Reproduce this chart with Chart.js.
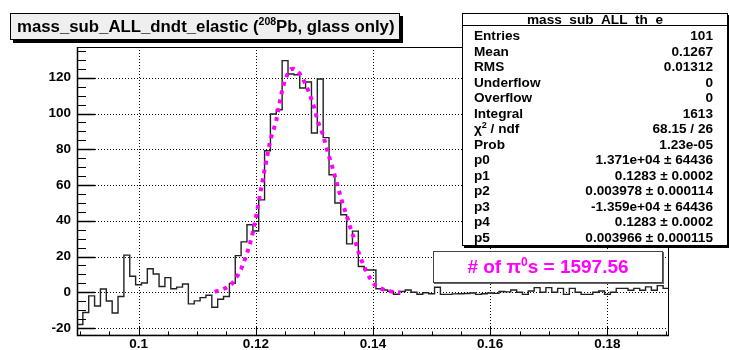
<!DOCTYPE html>
<html>
<head>
<meta charset="utf-8">
<script src="https://cdn.jsdelivr.net/npm/chart.js@4.4.1/dist/chart.umd.min.js"></script>
<style>
  body { margin: 0; background: #fff; font-family: "Liberation Sans", Arial, sans-serif; }
  #wrap { position: relative; width: 729px; height: 350px; overflow: hidden; }
  #plot { position: absolute; left: 0; top: 0; }
  .box { position: absolute; box-sizing: border-box; font-weight: bold; color: #000; }
  #title { left: 10px; top: 13px; width: 390px; height: 27px; background: #efefef; border: 1px solid #000;
           box-shadow: 3px 3px 0 #000; font-size: 16.8px; line-height: 25px; padding-left: 6px; white-space: nowrap; }
  #title sup { font-size: 10.5px; vertical-align: 7px; line-height: 0; }
  #stats { left: 462px; top: 13px; width: 266px; height: 233px; background: #fff; border: 1px solid #000;
           box-shadow: 2px 2px 0 #000; font-size: 13.6px; }
  #stats .head { position: absolute; left: 0; right: 0; top: 0; height: 11px; border-bottom: 1px solid #000;
                 text-align: center; line-height: 12px; }
  #stats .row { position: absolute; left: 11px; right: 14px; height: 16px; line-height: 16px; }
  #stats .row span { position: absolute; top: 0; white-space: nowrap; }
  #stats .row .v { right: 0; }
  #stats sup { font-size: 9px; vertical-align: 5px; line-height: 0; }
  #npi { left: 433px; top: 251px; width: 230px; height: 32px; background: #fff; border: 1px solid #444;
         box-shadow: 1px 1px 0 #666; color: #ff00ff; font-size: 19px; line-height: 30px; text-align: center; }
  #npi sup { font-size: 12px; vertical-align: 7px; line-height: 0; }
</style>
</head>
<body>
<div id="wrap">
  <canvas id="plot" width="729" height="350"></canvas>
  <div id="title" class="box">mass_sub_ALL_dndt_elastic (<sup>208</sup>Pb, glass only)</div>
  <div id="stats" class="box"><div class="head">mass_sub_ALL_th_e</div></div>
  <div id="npi" class="box"># of &pi;<sup>0</sup>s = 1597.56</div>
</div>
<script>
// 101 bins of width 0.001, the first one centred on 0.090
var binLow = 0.0895
var binWidth = 0.001
var counts = [
  -18, -11.3, -2, -7.7, 1.8, -4.9, -11.6, -2.4, 20.8, 9,
  4.2, 5.2, 13.2, 10.2, 3.2, 8.2, 2, 2.9, 4.6, -6.5,
  -4.8, -3, -1.7, -8.4, -3.9, -2.4, 5, 20.5, 28.2, 37.8,
  34.3, 51.7, 79.2, 99.7, 102.1, 129.6, 122.1, 121.7, 114.3, 117.6,
  89.1, 119.3, 86.5, 65.7, 49.9, 43.4, 27.1, 34.2, 14.4, 12.5,
  12.5, 2.0, 1.3, 0.5, -1.1, 0.4, 1.3, 0, -1.1, -0.3,
  -0.8, 2.8, -1.2, -1.2, -0.9, -0.8, -0.7, -0.4, -1.2, -0.8,
  -0.4, -0.6, 0.4, 0.2, 1.3, 0, -1.2, 0.7, 2.6, 0,
  2.6, 0, 2.2, -1.2, 2.2, 0, -1.2, -1.2, 0, 0.7,
  -1.2, 0, 2.2, 2.2, 1.1, 2.2, 1.1, 3.0, 1.1, 3.7,
  2.2
]

// double gaussian fit, sampled over its range
var fitX = [0.1130, 0.1140, 0.1150, 0.1155, 0.1160, 0.1165, 0.1170, 0.1175, 0.1180, 0.1185,
  0.1190, 0.1195, 0.1200, 0.1205, 0.1210, 0.1215, 0.1220, 0.1225, 0.1230, 0.1235,
  0.1240, 0.1245, 0.1250, 0.1255, 0.1260, 0.1265, 0.1270, 0.1275, 0.1280, 0.1285,
  0.1290, 0.1295, 0.1300, 0.1305, 0.1310, 0.1315, 0.1320, 0.1325, 0.1330, 0.1335,
  0.1340, 0.1345, 0.1350, 0.1355, 0.1360, 0.1365, 0.1370, 0.1375, 0.1380, 0.1385,
  0.1390, 0.1395, 0.1400, 0.1405, 0.1410, 0.1420, 0.1430, 0.1440, 0.1447]
var fitY = [0.3, 1.2, 2.6, 3.6, 5.0, 7.2, 10.0, 13.0, 17.0, 21.8,
  27.0, 33.5, 41.5, 50.5, 59.5, 68.5, 77.0, 85.5, 90.5, 96.0,
  105.0, 113.0, 118.8, 122.6, 124.8, 125.0, 124.0, 122.3, 119.8, 116.3,
  112.5, 108.0, 103.0, 96.5, 92.0, 88.0, 81.5, 76.0, 70.8, 65.0,
  59.0, 53.2, 47.8, 43.0, 37.5, 32.5, 28.3, 22.7, 18.2, 14.3,
  10.6, 7.8, 5.4, 3.5, 2.6, 1.3, 0.5, 0.1, -0.2]

var xTicks = [0.1, 0.12, 0.14, 0.16, 0.18]
var yTicks = [-20, 0, 20, 40, 60, 80, 100, 120]

var statRows = [
  ['Entries', '101'],
  ['Mean', '0.1267'],
  ['RMS', '0.01312'],
  ['Underflow', '0'],
  ['Overflow', '0'],
  ['Integral', '1613'],
  ['&chi;<sup>2</sup> / ndf', '68.15 / 26'],
  ['Prob', '1.23e-05'],
  ['p0', '1.371e+04 &plusmn; 64436'],
  ['p1', '0.1283 &plusmn; 0.0002'],
  ['p2', '0.003978 &plusmn; 0.000114'],
  ['p3', '-1.359e+04 &plusmn; 64436'],
  ['p4', '0.1283 &plusmn; 0.0002'],
  ['p5', '0.003966 &plusmn; 0.000115']
]

var stats = document.getElementById('stats')
statRows.forEach(function (r, i) {
  var row = document.createElement('div')
  row.className = 'row'
  row.style.top = (14 + i * 15.5) + 'px'
  row.innerHTML = '<span>' + r[0] + '</span><span class="v">' + r[1] + '</span>'
  stats.appendChild(row)
})

// left edge of every bin, plus the right edge of the last one
var histPoints = counts.map(function (c, i) { return {x: binLow + i * binWidth, y: c} })
histPoints.push({x: binLow + counts.length * binWidth, y: counts[counts.length - 1]})

var fitPoints = fitX.map(function (x, i) { return {x: x, y: fitY[i]} })

// dotted grid, frame and inward ticks like a ROOT canvas
var frame = {
  id: 'frame',
  beforeDatasetsDraw: function (chart) {
    var ctx = chart.ctx, a = chart.chartArea, x = chart.scales.x, y = chart.scales.y
    ctx.save()
    ctx.strokeStyle = '#000'
    ctx.lineWidth = 1
    ctx.setLineDash([1, 2])
    xTicks.forEach(function (v) {
      var px = Math.round(x.getPixelForValue(v)) + 0.5
      ctx.beginPath(); ctx.moveTo(px, a.top); ctx.lineTo(px, a.bottom); ctx.stroke()
    })
    yTicks.forEach(function (v) {
      var py = Math.round(y.getPixelForValue(v)) + 0.5
      ctx.beginPath(); ctx.moveTo(a.left, py); ctx.lineTo(a.right, py); ctx.stroke()
    })
    ctx.restore()
  },
  afterDatasetsDraw: function (chart) {
    var ctx = chart.ctx, a = chart.chartArea, x = chart.scales.x, y = chart.scales.y
    ctx.save()
    ctx.strokeStyle = '#000'
    ctx.lineWidth = 1
    ctx.strokeRect(a.left + 0.5, a.top + 0.5, a.right - a.left - 1, a.bottom - a.top - 1)
    ctx.lineWidth = 1.5
    ctx.beginPath()
    ctx.moveTo(a.left + 0.5, a.top); ctx.lineTo(a.left + 0.5, a.bottom - 0.5); ctx.lineTo(a.right, a.bottom - 0.5)
    ctx.stroke()
    ctx.lineWidth = 1
    for (var k = 0; k <= 20; k++) {
      var xv = 0.09 + k * 0.005
      var px = Math.round(x.getPixelForValue(xv)) + 0.5
      var len = (k % 4 === 2) ? 9 : 4.5
      ctx.beginPath(); ctx.moveTo(px, a.bottom); ctx.lineTo(px, a.bottom - len); ctx.stroke()
    }
    for (var v = -20; v <= 135; v += 5) {
      var py = Math.round(y.getPixelForValue(v)) + 0.5
      var major = v % 20 === 0
      ctx.lineWidth = major ? 1.5 : 1
      ctx.beginPath(); ctx.moveTo(a.left, py); ctx.lineTo(a.left + (major ? 18 : 9), py); ctx.stroke()
    }
    ctx.restore()
  }
}

var tickFont = {family: '"Liberation Sans", Arial, sans-serif', size: 13.5, weight: 'bold'}

new Chart(document.getElementById('plot'), {
  type: 'line',
  data: {
    datasets: [{
      label: 'fit',
      data: fitPoints,
      borderColor: '#ff00ff',
      borderWidth: 4,
      borderDash: [4, 5],
      pointRadius: 0,
      tension: 0,
      fill: false
    }, {
      label: 'mass_sub_ALL_th_e',
      data: histPoints,
      stepped: 'before',
      borderColor: '#222',
      borderWidth: 1.4,
      pointRadius: 0,
      fill: false
    }]
  },
  options: {
    responsive: false,
    animation: false,
    devicePixelRatio: 1,
    layout: { padding: {left: 0, top: 47, right: 60, bottom: 0} },
    plugins: { legend: {display: false}, tooltip: {enabled: false} },
    scales: {
      x: {
        type: 'linear',
        min: 0.0895,
        max: 0.1905,
        afterBuildTicks: function (s) { s.ticks = xTicks.map(function (v) { return {value: v} }) },
        afterFit: function (s) { s.height = 14 },
        grid: {display: false, drawTicks: false},
        border: {display: false},
        ticks: {
          padding: 0, color: '#000', font: tickFont, maxRotation: 0, autoSkip: false,
          callback: function (v) { return String(+v.toFixed(2)) }
        }
      },
      y: {
        type: 'linear',
        min: -24.4,
        max: 137.2,
        afterBuildTicks: function (s) { s.ticks = yTicks.map(function (v) { return {value: v} }) },
        afterFit: function (s) { s.width = 77 },
        grid: {display: false, drawTicks: false},
        border: {display: false},
        ticks: { padding: 6, color: '#000', font: tickFont, autoSkip: false }
      }
    }
  },
  plugins: [frame]
})
</script>
</body>
</html>
